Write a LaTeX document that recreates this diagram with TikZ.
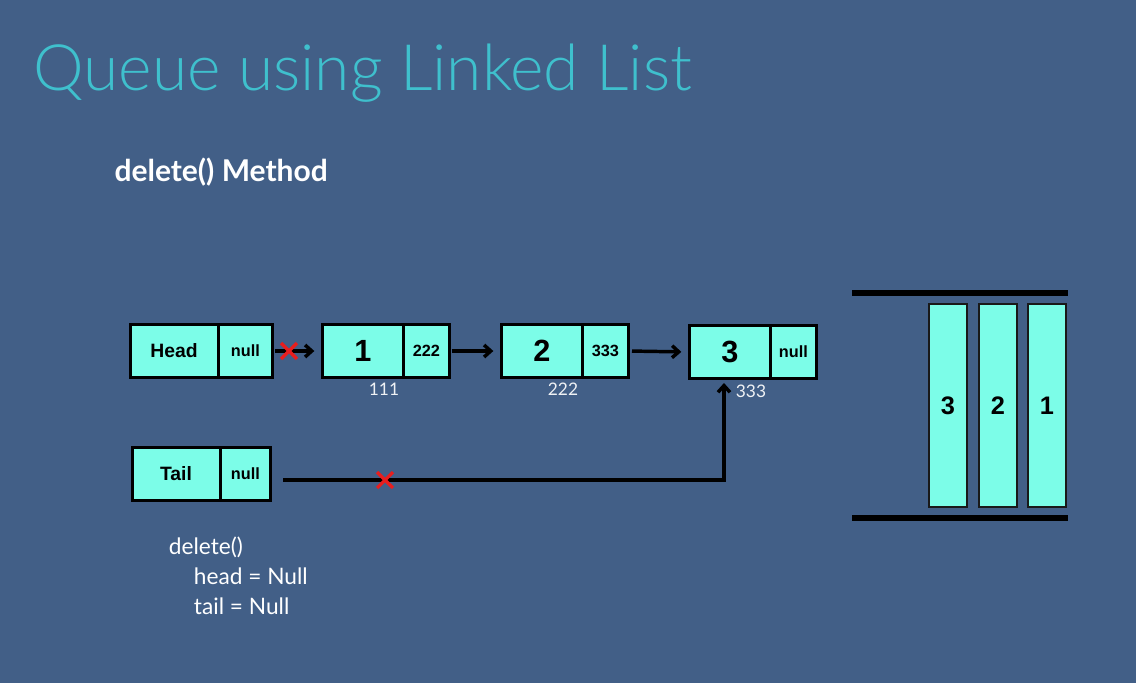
\documentclass[tikz,border=0pt]{standalone}
\usepackage{fontspec}
\setmainfont{Lato}
\newfontfamily\titlefont{Lato Light}
\newfontfamily\boxfont{Liberation Sans}
\usetikzlibrary{arrows.meta,shapes.misc}
\definecolor{slide}{RGB}{66,95,135}
\definecolor{titlecyan}{RGB}{63,192,205}
\definecolor{cellfill}{RGB}{124,253,232}
\definecolor{crossred}{RGB}{232,30,30}

\tikzset{every picture/.style={line width=0.75pt}}
\tikzset{
  cell/.style={draw=black, fill=cellfill, line width=2.25pt, outer sep=0pt, inner sep=0pt,
    minimum height=39.5pt, font=\boxfont\bfseries},
  valcell/.style={cell, minimum width=61pt, font=\boxfont\bfseries\fontsize{23}{23}\selectfont},
  ptrcell/.style={cell, minimum width=34pt, font=\boxfont\bfseries\fontsize{12.2}{12.2}\selectfont},
  namecell/.style={cell, minimum width=66pt, font=\boxfont\bfseries\fontsize{14.5}{14.5}\selectfont},
  slot/.style={draw=black!90, fill=cellfill, line width=1.1pt, minimum width=28.5pt, minimum height=152pt,
    inner sep=0pt, font=\boxfont\bfseries\fontsize{19}{19}\selectfont},
  addr/.style={anchor=base, text=white!92!slide, font=\fontsize{13}{13}\selectfont},
  link/.style={line width=2.6pt, -{Straight Barb[length=5pt,width=9pt]}},
  cut/.style={cross out, draw=crossred, line width=2.4pt, minimum size=9.5pt, inner sep=0pt},
  codeline/.style={anchor=base west, text=white, font=\fontsize{17}{17}\selectfont},
}

\begin{document}
\begin{tikzpicture}[x=0.75pt,y=0.75pt,yscale=-1,xscale=1]
%Background
\fill[slide] (0,0) rectangle (1136,683);
\useasboundingbox (0,0) rectangle (1136,683);

% Text Node
\node (title) at (33,90) [anchor=base west, inner sep=0pt, text=titlecyan, font=\titlefont\fontsize{48}{48}\selectfont] {Queue using Linked List};
% Text Node
\node (subtitle) at (114,181) [anchor=base west, inner sep=0pt, text=white, font=\bfseries\fontsize{22.5}{22.5}\selectfont] {delete() Method};

%Head pointer
\node[namecell] (head) at (174,351) {Head};
\node[ptrcell, minimum width=41pt, anchor=west] (headnext) at (head.east) {null};
%Nodes of the list
\node[valcell] (n1) at (363,351) {1};
\node[ptrcell, anchor=west] (n1next) at (n1.east) {222};
\node[valcell] (n2) at (542,351) {2};
\node[ptrcell, anchor=west] (n2next) at (n2.east) {333};
\node[valcell] (n3) at (730,352) {3};
\node[ptrcell, anchor=west] (n3next) at (n3.east) {null};
%Tail pointer
\node[namecell] (tail) at (176,474) {Tail};
\node[ptrcell, minimum width=38pt, anchor=west] (tailnext) at (tail.east) {null};

% Address labels
\node[addr] (a1) at (384,395) {111};
\node[addr] (a2) at (563,395) {222};
\node[addr] (a3) at (751,397) {333};

%Links
\draw[link, shorten <=1.5pt, shorten >=6pt] (headnext.east) -- (n1.west);
\draw[link, shorten <=2pt, shorten >=6pt] (n1next.east) -- (n2.west);
\draw[link, shorten <=3pt, shorten >=6pt] (n2next.east) -- (n3.west);
\coordinate (tailstart) at (283,480);
\coordinate (tailend) at (724,383);
\draw[link] (tailstart) -| (tailend);

%Cuts
\node[cut] (cuthead) at (289,351) {};
\node[cut] (cuttail) at (385,480) {};

%Queue picture
\draw[line width=4.5pt] (852,293) -- (1068,293);
\draw[line width=4.5pt] (852,518) -- (1068,518);
\node[slot] (q3) at (948,405.5) {3};
\node[slot] (q2) at (998,405.5) {2};
\node[slot] (q1) at (1047,405.5) {1};

% Code
\node[codeline] (c1) at (164,554) {delete()};
\node[codeline] (c2) at (189,584) {head = Null};
\node[codeline] (c3) at (189,614) {tail = Null};

\end{tikzpicture}
\end{document}
